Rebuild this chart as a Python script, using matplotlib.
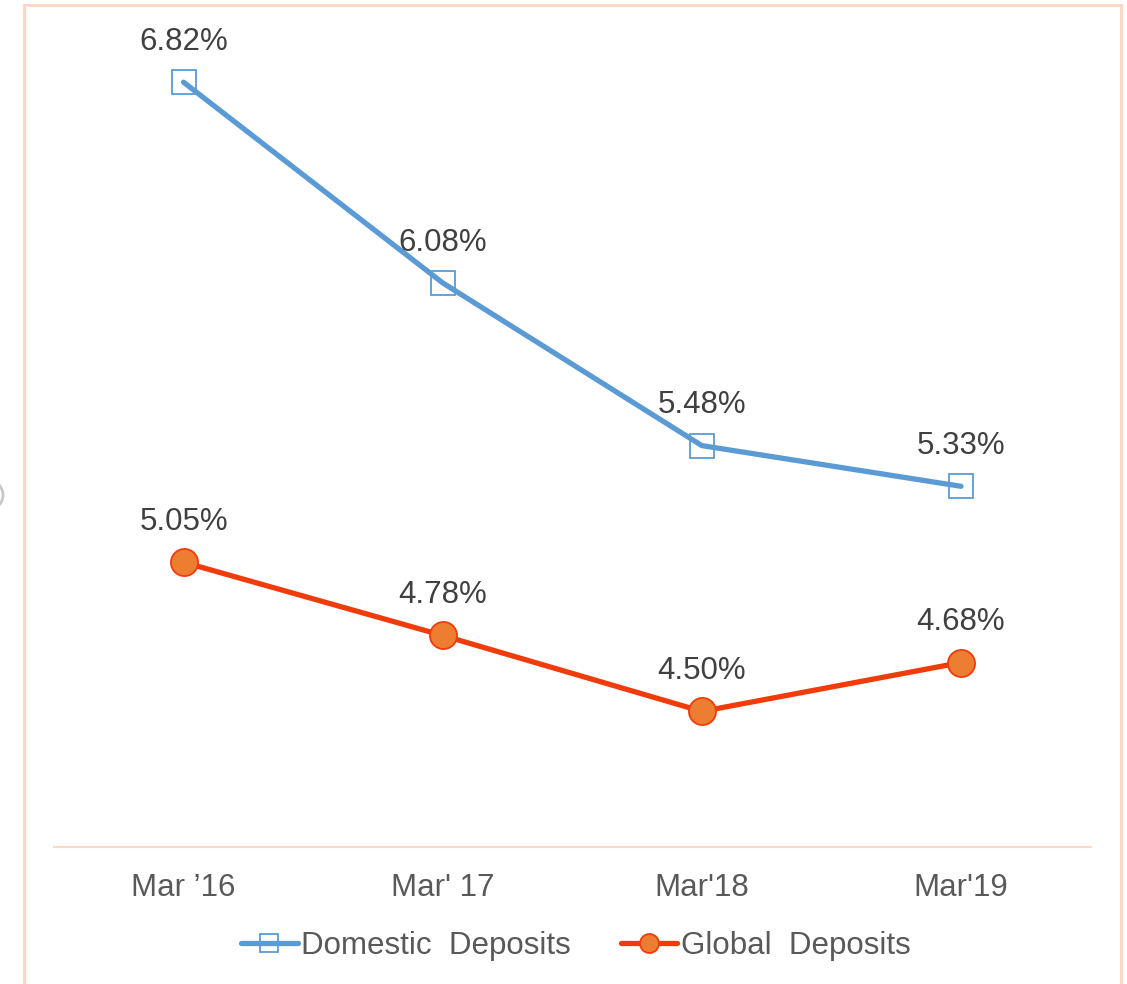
import matplotlib
matplotlib.use("Agg")
import matplotlib.pyplot as plt
from matplotlib.lines import Line2D
from matplotlib.patches import Circle

categories = ["Mar \u201916", "Mar' 17", "Mar'18", "Mar'19"]
domestic = [6.82, 6.08, 5.48, 5.33]
global_dep = [5.05, 4.78, 4.50, 4.68]
series_names = ["Domestic  Deposits", "Global  Deposits"]

plt.rcParams['font.family'] = ['Liberation Sans', 'DejaVu Sans']

W, H = 1127, 984
fig = plt.figure(figsize=(W / 100, H / 100), dpi=100)
ax = fig.add_axes([54 / W, 1 - 847 / H, (1090.6 - 54) / W, (847 - 33.4) / H])

x = list(range(len(categories)))
blue = "#5B9BD5"
red = "#F03C0A"
orange = "#ED7D31"
fs = 22.5

l1, = ax.plot(x, domestic, color=blue, lw=3.8, solid_capstyle='round', zorder=3,
              marker='s', markersize=17.5, markerfacecolor='none',
              markeredgecolor=blue, markeredgewidth=1.3)
l2, = ax.plot(x, global_dep, color=red, lw=3.8, solid_capstyle='round', zorder=3,
              marker='o', markersize=19.5, markerfacecolor=orange,
              markeredgecolor=red, markeredgewidth=1.3)

for xi, v in zip(x, domestic):
    ax.annotate(f"{v:.2f}%", (xi, v), xytext=(0, 29), textcoords='offset points',
                ha='center', va='center', fontsize=fs, color='#404040')
for xi, v in zip(x, global_dep):
    ax.annotate(f"{v:.2f}%", (xi, v), xytext=(0, 29), textcoords='offset points',
                ha='center', va='center', fontsize=fs, color='#404040')

ax.set_xlim(-0.5, 3.5)
ax.set_ylim(4.0, 7.0)
ax.set_xticks(x)
ax.set_xticklabels(categories, fontsize=fs, color='#595959')
ax.set_yticks([])
ax.tick_params(axis='x', length=0, pad=19)
for s in ['top', 'right', 'left']:
    ax.spines[s].set_visible(False)
ax.spines['bottom'].set_color('#FAD9CC')
ax.spines['bottom'].set_linewidth(1.5)

leg = fig.legend([l1, l2], series_names, loc='center',
                 bbox_to_anchor=(576 / W, 1 - 946 / H), ncol=2, frameon=False,
                 fontsize=fs, labelcolor='#595959', handlelength=1.8,
                 handletextpad=0.12, columnspacing=1.6, markerscale=0.7)

# outer chart border (light salmon)
bc = '#FDD5C6'
fig.add_artist(Line2D([24 / W, 24 / W], [0, 1 - 5 / H], color=bc, lw=2, transform=fig.transFigure))
fig.add_artist(Line2D([24 / W, 1121 / W], [1 - 5 / H, 1 - 5 / H], color=bc, lw=2, transform=fig.transFigure))
fig.add_artist(Line2D([1121 / W, 1121 / W], [0, 1 - 5 / H], color=bc, lw=2, transform=fig.transFigure))

# small gray arc at left edge
fig.add_artist(Circle((-16 / W, 1 - 495 / H), 19 / W, transform=fig.transFigure,
                      fill=False, edgecolor='#C8C8C8', lw=2))

fig.savefig("out.png", dpi=100)
